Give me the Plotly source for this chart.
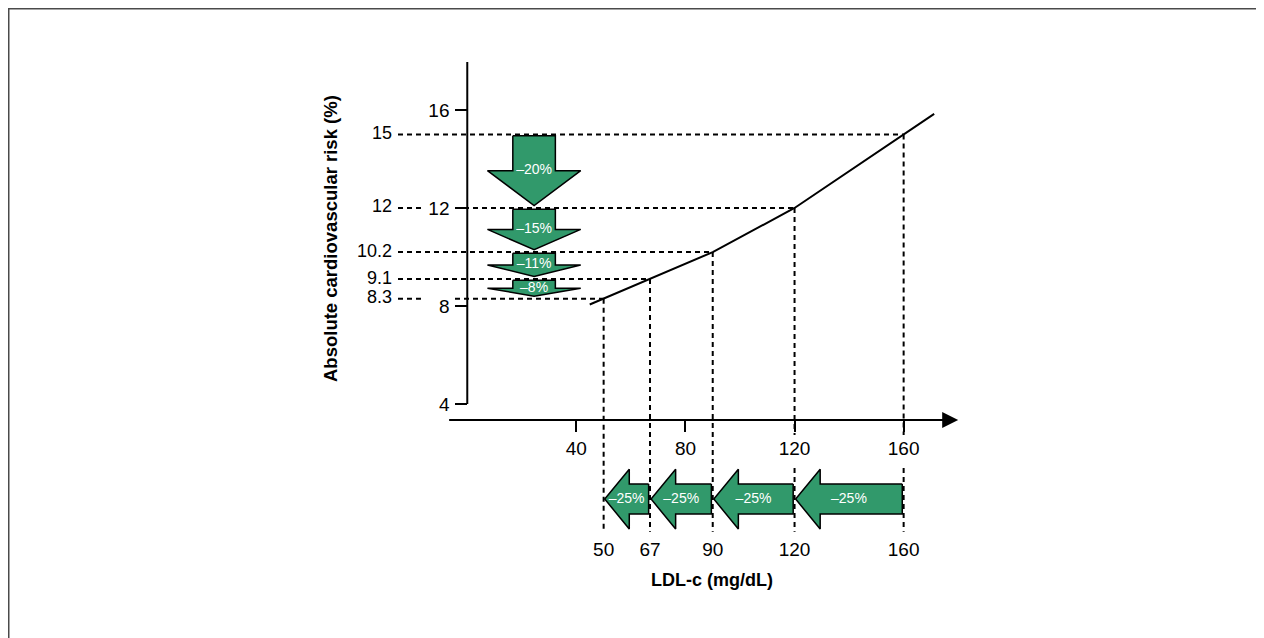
import plotly.graph_objects as go

# ---------------- data ----------------
ldl = [160, 120, 90, 67, 50]                 # LDL-c (mg/dL)
risk = [15, 12, 10.2, 9.1, 8.3]              # absolute CV risk (%)
risk_drop_labels = ["–20%", "–15%", "–11%", "–8%"]
ldl_drop_labels = ["–25%", "–25%", "–25%", "–25%"]
x_tick_vals = [40, 80, 120, 160]
y_tick_vals = [4, 8, 12, 16]
x_title = "LDL-c (mg/dL)"
y_title = "Absolute cardiovascular risk (%)"

# ---------------- style / layout ----------------
GREEN = "#31996b"
FONT = "Liberation Sans, Arial, sans-serif"
W, H = 1264, 638
PL, PR, PT, PB = 372, 957, 40, 592          # plot area in figure pixels
XR = [-32.0, 182.5]
YR = [-4.0, 18.53]

X_AXIS_Y = 3.35      # level of the drawn x axis
Y_AXIS_TOP = 17.96
X_AXIS_LEFT = -7.2
X_AXIS_TIP = 180.0

H_DASH_START = -25.4
H_GAP = (-16.6, -4.5)
V_DASH_END = -1.21
V_GAP = (1.39, 2.73)

CX, SW, HW = 24.5, 7.8, 17.1                 # down arrows
YC, SH, HH, HL = 0.12, 0.61, 1.22, 9.0       # left arrows
LOW_LABEL_Y = -2.0
LEFT_LABEL_X = -27.6


def px_x(p):
    return (p - PL) / (PR - PL)


def px_y(p):
    return (PB - p) / (PB - PT)


fig = go.Figure()

# ---- dashed guide lines ----
dx, dy = [], []
for xv, yv in zip(ldl, risk):
    near_tick = any(abs(yv - t) < 0.6 for t in y_tick_vals)
    if near_tick:
        dx += [H_DASH_START, H_GAP[0], None, H_GAP[1], xv, None]
        dy += [yv, yv, None, yv, yv, None]
    else:
        dx += [H_DASH_START, xv, None]
        dy += [yv, yv, None]
    near_xtick = any(abs(xv - t) < 5 for t in x_tick_vals)
    if near_xtick:
        dx += [xv, xv, None, xv, xv, None]
        dy += [yv, V_GAP[1], None, V_GAP[0], V_DASH_END, None]
    else:
        dx += [xv, xv, None]
        dy += [yv, V_DASH_END, None]
fig.add_trace(go.Scatter(x=dx, y=dy, mode="lines", hoverinfo="skip",
                         line=dict(color="black", width=2, dash="5px,4px"),
                         showlegend=False))

# ---- risk line through the points, slightly extended ----
lx = [ldl[0] + 0.28 * (ldl[0] - ldl[1])] + ldl + [ldl[-1] + 0.3 * (ldl[-1] - ldl[-2])]
ly = [risk[0] + 0.28 * (risk[0] - risk[1])] + risk + [risk[-1] + 0.3 * (risk[-1] - risk[-2])]
fig.add_trace(go.Scatter(x=lx, y=ly, mode="lines", line=dict(color="black", width=2),
                         hoverinfo="skip", showlegend=False))

# ---- y axis line ----
fig.add_trace(go.Scatter(x=[0, 0], y=[y_tick_vals[0], Y_AXIS_TOP], mode="lines",
                         line=dict(color="black", width=2), hoverinfo="skip",
                         showlegend=False))

# ---- down arrows (risk reduction) ----
tx, ty = [], []
for i in range(len(risk) - 1):
    top = risk[i] - 0.05
    tip = risk[i + 1] + 0.1
    mid = top - 0.5 * (top - tip)
    xs = [CX - SW, CX + SW, CX + SW, CX + HW, CX, CX - HW, CX - SW, CX - SW]
    ys = [top, top, mid, mid, tip, mid, mid, top]
    fig.add_trace(go.Scatter(x=xs, y=ys, mode="lines", fill="toself", fillcolor=GREEN,
                             line=dict(color="black", width=1.5), hoverinfo="skip",
                             showlegend=False))
    tx.append(CX)
    ty.append(mid)
fig.add_trace(go.Scatter(x=tx, y=ty, mode="text", text=risk_drop_labels,
                         textfont=dict(family=FONT, size=14, color="white"),
                         textposition="middle center", hoverinfo="skip",
                         showlegend=False, cliponaxis=False))

# ---- left arrows (LDL reduction) ----
ax_, ay_ = [], []
for i in range(len(ldl) - 1):
    tail = ldl[i] - 0.5
    tip = ldl[i + 1] + 0.4
    hb = tip + HL
    xs = [tail, tail, hb, hb, tip, hb, hb, tail]
    ys = [YC + SH, YC - SH, YC - SH, YC - HH, YC, YC + HH, YC + SH, YC + SH]
    fig.add_trace(go.Scatter(x=xs, y=ys, mode="lines", fill="toself", fillcolor=GREEN,
                             line=dict(color="black", width=1.5), hoverinfo="skip",
                             showlegend=False))
    ax_.append((tail + tip) / 2)
    ay_.append(YC)
fig.add_trace(go.Scatter(x=ax_, y=ay_, mode="text", text=ldl_drop_labels,
                         textfont=dict(family=FONT, size=14, color="white"),
                         textposition="middle center", hoverinfo="skip",
                         showlegend=False, cliponaxis=False))

# ---- value labels ----
fig.add_trace(go.Scatter(x=[LEFT_LABEL_X] * len(risk), y=risk, mode="text",
                         text=[f"{v:g}" for v in risk], textposition="middle left",
                         textfont=dict(family=FONT, size=18, color="black"),
                         hoverinfo="skip", showlegend=False, cliponaxis=False))
fig.add_trace(go.Scatter(x=ldl, y=[LOW_LABEL_Y] * len(ldl), mode="text",
                         text=[f"{v:g}" for v in ldl], textposition="middle center",
                         textfont=dict(family=FONT, size=19, color="black"),
                         hoverinfo="skip", showlegend=False, cliponaxis=False))

# ---- x axis arrow ----
fig.add_annotation(x=X_AXIS_TIP, y=X_AXIS_Y, ax=X_AXIS_LEFT, ay=X_AXIS_Y,
                   xref="x", yref="y", axref="x", ayref="y", text="",
                   showarrow=True, arrowhead=2, arrowsize=1.6, arrowwidth=2,
                   arrowcolor="black", standoff=0, startstandoff=0)

# ---- titles ----
fig.add_annotation(x=px_x(322), y=px_y(231), xref="paper", yref="paper",
                   xanchor="center", yanchor="middle",
                   text=f"<b>{y_title}</b>", textangle=-90, showarrow=False,
                   font=dict(family=FONT, size=18.5, color="black"))
fig.add_annotation(x=px_x(704), y=px_y(572), xref="paper", yref="paper",
                   xanchor="center", yanchor="middle",
                   text=f"<b>{x_title}</b>", showarrow=False,
                   font=dict(family=FONT, size=18, color="black"))

# ---- outer frame ----
fig.add_shape(type="rect", xref="paper", yref="paper",
              x0=px_x(0.75), x1=px_x(1253), y0=px_y(660), y1=px_y(0.75),
              line=dict(color="#4a4a4a", width=1.5), fillcolor="rgba(0,0,0,0)")

fig.update_layout(
    width=W, height=H,
    margin=dict(l=PL, r=W - PR, t=PT, b=H - PB, pad=0),
    paper_bgcolor="white", plot_bgcolor="white",
    showlegend=False,
    font=dict(family=FONT, size=19, color="black"),
    xaxis=dict(range=XR, anchor="free",
               position=(X_AXIS_Y - YR[0]) / (YR[1] - YR[0]),
               tickvals=x_tick_vals, ticks="outside", ticklen=11, tickwidth=2,
               tickcolor="black", showline=False, showgrid=False, zeroline=False,
               tickfont=dict(family=FONT, size=19, color="black"), fixedrange=True),
    yaxis=dict(range=YR, anchor="free",
               position=(0 - XR[0]) / (XR[1] - XR[0]),
               tickvals=y_tick_vals, ticks="outside", ticklen=12, tickwidth=2,
               tickcolor="black", showline=False, showgrid=False, zeroline=False,
               ticklabelstandoff=2,
               tickfont=dict(family=FONT, size=19, color="black"), fixedrange=True),
)

fig.write_html("out.html")
